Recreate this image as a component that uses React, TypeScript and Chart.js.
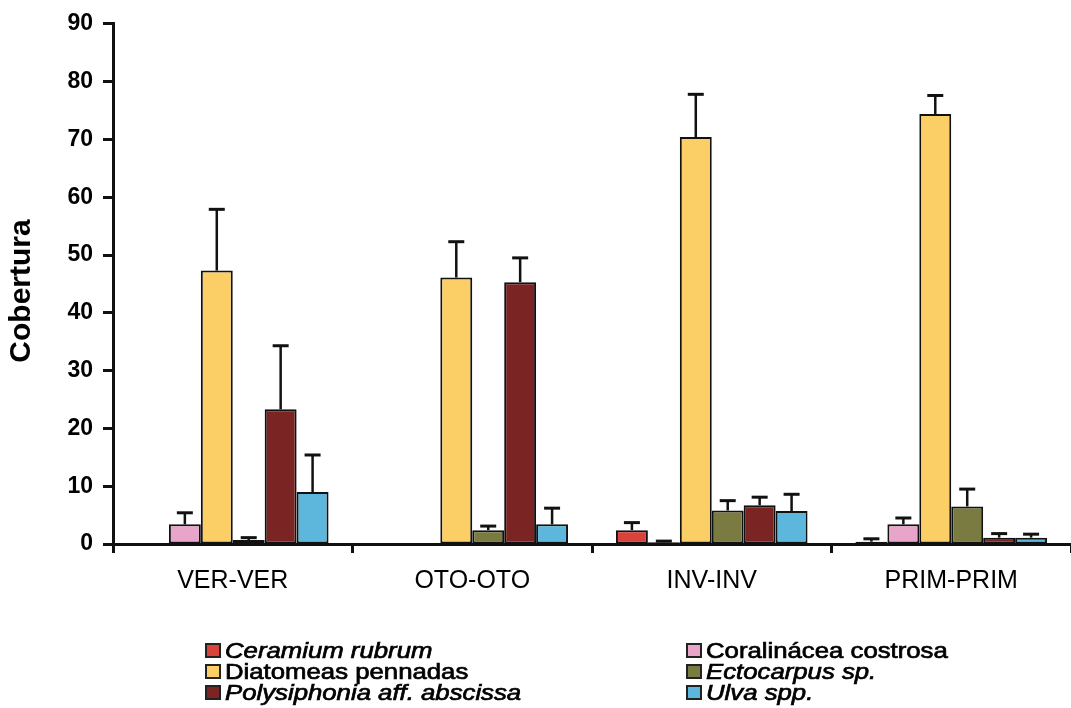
import React, { useEffect, useRef } from "react";
import { Chart, registerables } from "chart.js";

Chart.register(...registerables);

// Sampling periods (x categories)
const categories = ["VER-VER", "OTO-OTO", "INV-INV", "PRIM-PRIM"];

// Taxa shown in the legend
const seriesNames = [
  "Ceramium rubrum",
  "Coralinácea costrosa",
  "Diatomeas pennadas",
  "Ectocarpus sp.",
  "Polysiphonia aff. abscissa",
  "Ulva spp.",
];

// Mean cover per period
const ceramiumMean = [0, 0, 2.4, 0.4];
const coralinaceaMean = [3.4, 0, 0.3, 3.4];
const diatomeasMean = [47.3, 46.1, 70.4, 74.4];
const ectocarpusMean = [0.7, 2.4, 5.8, 6.5];
const polysiphoniaMean = [23.3, 45.3, 6.7, 1.1];
const ulvaMean = [9.0, 3.4, 5.7, 1.1];

// Standard error per period
const ceramiumErr = [0, 0, 1.3, 0.5];
const coralinaceaErr = [2.0, 0, 0.2, 1.1];
const diatomeasErr = [10.6, 6.2, 7.4, 3.2];
const ectocarpusErr = [0.4, 0.7, 1.7, 3.0];
const polysiphoniaErr = [11.0, 4.2, 1.4, 0.7];
const ulvaErr = [6.4, 2.8, 2.9, 0.6];

// Y axis ticks and title
const yTicks = [0, 10, 20, 30, 40, 50, 60, 70, 80, 90];
const yTitle = "Cobertura";

const means = [ceramiumMean, coralinaceaMean, diatomeasMean, ectocarpusMean, polysiphoniaMean, ulvaMean];
const errors = [ceramiumErr, coralinaceaErr, diatomeasErr, ectocarpusErr, polysiphoniaErr, ulvaErr];

// Styling
const colors = ["#d8433b", "#e8a4c9", "#fccf66", "#7a7b40", "#7a2424", "#5db6db"];
const italicNames = [true, false, false, true, true, true];
const FONT = '"Liberation Sans", Arial, Helvetica, sans-serif';

const errorBarsPlugin = {
  id: "errorBars",
  afterDatasetsDraw(chart: any) {
    const ctx = chart.ctx;
    const yScale = chart.scales.y;
    ctx.save();
    ctx.strokeStyle = "#111";
    chart.data.datasets.forEach((ds: any, i: number) => {
      const meta = chart.getDatasetMeta(i);
      const errs: number[] = ds.errors || [];
      meta.data.forEach((bar: any, j: number) => {
        const e = errs[j];
        const v = ds.data[j];
        if (!e || e <= 0) return;
        const x = bar.x;
        const y0 = yScale.getPixelForValue(v);
        const y1 = yScale.getPixelForValue(v + e);
        ctx.lineWidth = 2.5;
        ctx.beginPath();
        ctx.moveTo(x, y0);
        ctx.lineTo(x, y1);
        ctx.stroke();
        ctx.lineWidth = 3;
        ctx.beginPath();
        ctx.moveTo(x - 8, y1);
        ctx.lineTo(x + 8, y1);
        ctx.stroke();
      });
    });
    ctx.restore();
  },
};

// Y axis title, centred a little below the middle of the plot area
const yTitlePlugin = {
  id: "yTitle",
  afterDraw(chart: any) {
    const ctx = chart.ctx;
    ctx.save();
    ctx.translate(22, 291);
    ctx.rotate(-Math.PI / 2);
    ctx.fillStyle = "#000";
    ctx.textAlign = "center";
    ctx.textBaseline = "middle";
    ctx.font = `bold 30px ${FONT}`;
    ctx.fillText(yTitle, 0, 0);
    ctx.restore();
  },
};

// Two-column legend, column-major order
const legendPlugin = {
  id: "twoColumnLegend",
  afterDraw(chart: any) {
    const ctx = chart.ctx;
    const colX = [205, 686];
    const rowTop = [643, 664, 685];
    ctx.save();
    chart.data.datasets.forEach((ds: any, i: number) => {
      const col = i % 2;
      const row = Math.floor(i / 2);
      const bx = colX[col];
      const by = rowTop[row];
      ctx.fillStyle = ds.backgroundColor;
      ctx.fillRect(bx, by, 16, 15);
      ctx.strokeStyle = "#222";
      ctx.lineWidth = 2;
      ctx.strokeRect(bx + 1, by + 1, 14, 13);
      ctx.save();
      ctx.translate(bx + 20, by + 14.5);
      ctx.scale(1.17, 1);
      ctx.fillStyle = "#000";
      ctx.strokeStyle = "#000";
      ctx.lineWidth = 0.7;
      ctx.textBaseline = "alphabetic";
      ctx.textAlign = "left";
      ctx.font = `${italicNames[i] ? "italic " : ""}22px ${FONT}`;
      ctx.fillText(ds.label, 0, 0);
      ctx.strokeText(ds.label, 0, 0);
      ctx.restore();
    });
    ctx.restore();
  },
};

export default function App() {
  const ref = useRef<HTMLCanvasElement | null>(null);

  useEffect(() => {
    document.body.style.margin = "0";
    const canvas = ref.current;
    if (!canvas) return;
    const chart = new Chart(canvas, {
      type: "bar",
      data: {
        labels: categories,
        datasets: seriesNames.map((name, i) => ({
          label: name,
          data: means[i],
          errors: errors[i],
          backgroundColor: colors[i],
          borderColor: "#111",
          borderWidth: 2,
          borderSkipped: false,
          categoryPercentage: 0.8,
          barPercentage: 1.0,
        })) as any,
      },
      options: {
        animation: false,
        responsive: false,
        devicePixelRatio: 1,
        layout: { padding: { top: 21, left: 0, right: 0, bottom: 0 } },
        plugins: {
          legend: { display: false },
          tooltip: { enabled: false },
        },
        scales: {
          x: {
            offset: true,
            grid: {
              display: true,
              offset: true,
              drawOnChartArea: false,
              drawTicks: true,
              tickLength: 9,
              tickWidth: 3,
              tickColor: "#111",
            },
            border: { display: true, color: "#111", width: 3 },
            ticks: {
              color: "#000",
              font: { family: FONT, size: 25 },
              padding: 13,
              maxRotation: 0,
            },
            afterFit(scale: any) {
              scale.height = 164;
            },
          },
          y: {
            min: 0,
            max: 90,
            afterBuildTicks(scale: any) {
              scale.ticks = yTicks.map((v) => ({ value: v }));
            },
            grid: {
              display: true,
              drawOnChartArea: false,
              drawTicks: true,
              tickLength: 10,
              tickWidth: 3,
              tickColor: "#111",
            },
            border: { display: true, color: "#111", width: 3 },
            ticks: {
              color: "#000",
              font: { family: FONT, size: 23, weight: "bold" },
              padding: 10,
            },
            afterFit(scale: any) {
              scale.width = 113;
            },
          },
        },
      } as any,
      plugins: [errorBarsPlugin, yTitlePlugin, legendPlugin],
    });
    return () => chart.destroy();
  }, []);

  return (
    <div style={{ position: "fixed", left: 0, top: 0, width: 1071, height: 708, background: "#fff" }}>
      <canvas ref={ref} width={1071} height={708} />
    </div>
  );
}
